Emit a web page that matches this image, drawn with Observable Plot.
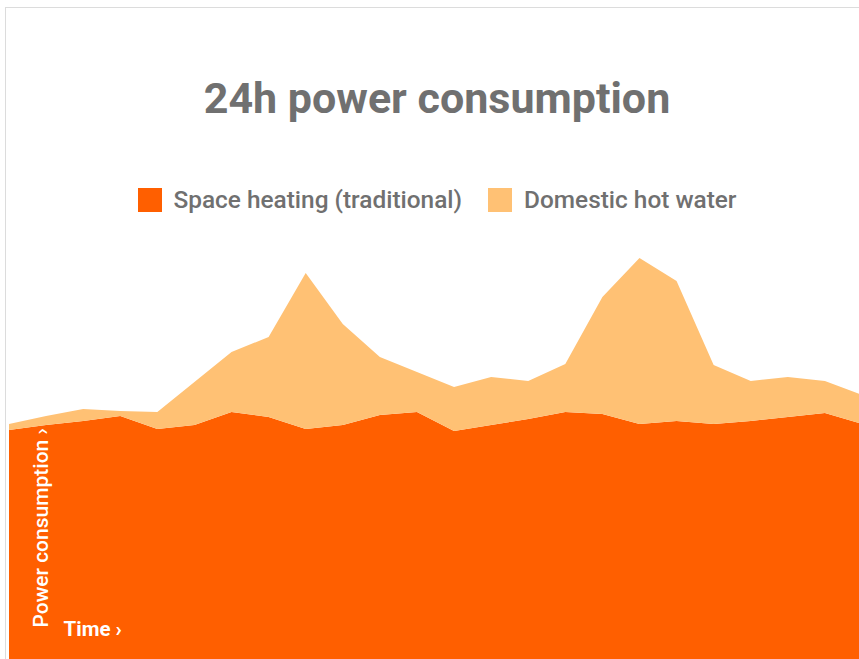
<!DOCTYPE html>
<html>
<head>
<meta charset="utf-8">
<script src="https://cdn.jsdelivr.net/npm/d3@7"></script>
<script src="https://cdn.jsdelivr.net/npm/@observablehq/plot@0.6"></script>
<style>
  html, body { margin: 0; padding: 0; background: #fff; }
  body { width: 859px; height: 659px; overflow: hidden; position: relative; font-family: Roboto, "Noto Sans", sans-serif; }
  #frame { position: absolute; left: 5px; top: 7px; width: 900px; height: 700px; border-top: 1px solid #dcdcdc; border-left: 1px solid #dcdcdc; }
  #title { position: absolute; left: 12px; width: 850px; top: 73px; text-align: center; font-size: 43px; font-weight: 700; color: #707070; letter-spacing: 0px; }
  #legend { position: absolute; left: 12px; width: 850px; top: 185px; display: flex; justify-content: center; align-items: center; font-size: 24.4px; color: #707070; font-weight: 500; }
  .item { display: flex; align-items: center; margin: 0 13px; }
  .sw { width: 24px; height: 24px; margin-right: 12px; }
  #chart { position: absolute; left: 9px; top: 240px; width: 853px; height: 425px; overflow: hidden; }
  #chart svg { display: block; }
</style>
</head>
<body>
<div id="frame"></div>
<div id="title">24h power consumption</div>
<div id="legend"></div>
<div id="chart"></div>
<script>
const hours = d3.range(0, 24);
const seriesNames = ["Space heating (traditional)", "Domestic hot water"];
const seriesColors = ["#ff5f00", "#ffc174"];
const spaceHeating = [22.9, 23.4, 23.8, 24.3, 23.0, 23.4, 24.7, 24.2, 23.0, 23.4, 24.4, 24.7, 22.8, 23.4, 24.0, 24.7, 24.5, 23.5, 23.8, 23.5, 23.8, 24.2, 24.6, 23.5];
const hotWater     = [0.6, 0.9, 1.2, 0.5, 1.7, 4.3, 6.0, 8.0, 15.6, 10.1, 5.8, 4.0, 4.4, 4.8, 3.8, 4.8, 11.7, 16.6, 14.0, 5.9, 4.0, 4.0, 3.2, 2.9];
const xLabel = "Time ›";
const yLabel = "Power consumption ›";

const data = [];
hours.forEach((h, i) => {
  data.push({hour: h, series: seriesNames[0], value: spaceHeating[i]});
  data.push({hour: h, series: seriesNames[1], value: hotWater[i]});
});

// legend
const legend = document.getElementById("legend");
seriesNames.forEach((name, i) => {
  const item = document.createElement("div");
  item.className = "item";
  const sw = document.createElement("div");
  sw.className = "sw";
  sw.style.background = seriesColors[i];
  const t = document.createElement("span");
  t.textContent = name;
  item.appendChild(sw);
  item.appendChild(t);
  legend.appendChild(item);
});

const chart = Plot.plot({
  width: 853,
  height: 425,
  marginTop: 0, marginRight: 0, marginBottom: 0, marginLeft: 0,
  x: {domain: [0, 23], axis: null},
  y: {domain: [-0.6, 41.9], axis: null},
  color: {domain: seriesNames, range: seriesColors},
  style: {fontFamily: "Roboto, sans-serif"},
  marks: [
    Plot.areaY(data, {x: "hour", y: "value", fill: "series", order: seriesNames}),
    Plot.areaY(hours, {x: (d) => d, y1: -0.6, y2: 0, fill: seriesColors[0]}),
    Plot.text([xLabel], {frameAnchor: "bottom-left", dx: 54, dy: -30, textAnchor: "start", lineAnchor: "bottom", fill: "white", fontSize: 20.5, fontWeight: 700}),
    Plot.text([yLabel], {frameAnchor: "bottom-left", dx: 32, dy: -38, rotate: -90, textAnchor: "start", lineAnchor: "middle", fill: "white", fontSize: 21, fontWeight: 500})
  ]
});
document.getElementById("chart").appendChild(chart);
</script>
</body>
</html>
